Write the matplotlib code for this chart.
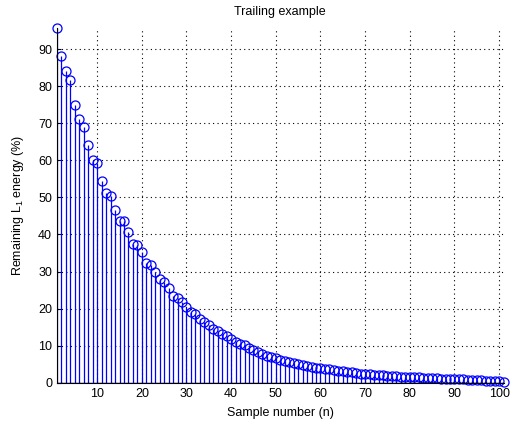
"""
Stem plot of the remaining L1 energy per sample (trailing example).
"""

import matplotlib
matplotlib.use("Agg")
import matplotlib.pyplot as plt

PLOT_FILE = "out.png"

# Remaining L1 energy (%) for samples n = 1..101
REMAINING_ENERGY = [
    95.7, 88.2, 84.1, 81.6, 75.0, 71.1, 69.1, 64.0, 60.2, 59.2,
    54.3, 51.3, 50.4, 46.7, 43.5, 43.5, 40.8, 37.3, 37.1, 35.2,
    32.4, 31.9, 30.0, 27.9, 27.3, 25.6, 23.4, 22.9, 21.7, 20.4,
    19.1, 18.6, 17.2, 16.3, 15.7, 14.6, 13.9, 13.1, 12.5, 11.9,
    11.0, 10.4, 10.1, 9.5, 8.9, 8.2, 7.7, 7.3, 6.9, 6.6,
    6.2, 5.9, 5.7, 5.3, 5.0, 4.8, 4.6, 4.3, 4.1, 3.9,
    3.8, 3.6, 3.4, 3.3, 3.1, 2.9, 2.8, 2.6, 2.5, 2.4,
    2.3, 2.2, 2.1, 2.0, 1.9, 1.9, 1.8, 1.7, 1.7, 1.6,
    1.5, 1.5, 1.4, 1.3, 1.3, 1.2, 1.1, 1.1, 1.0, 1.0,
    0.9, 0.9, 0.8, 0.8, 0.7, 0.7, 0.6, 0.5, 0.5, 0.4,
    0.2,
]
SAMPLES = list(range(1, len(REMAINING_ENERGY) + 1))

X_TICKS = [10, 20, 30, 40, 50, 60, 70, 80, 90, 100]
Y_TICKS = [0, 10, 20, 30, 40, 50, 60, 70, 80, 90]


def plot_remaining_energy():
    plt.rcParams["font.family"] = ["Liberation Sans", "DejaVu Sans"]
    fig = plt.figure(figsize=(5.11, 4.23), dpi=100)
    ax = fig.add_axes([0.1115, 0.095, 0.874, 0.839])

    markers, stems, base = ax.stem(SAMPLES, REMAINING_ENERGY, basefmt="k-")
    plt.setp(stems, color="blue", linewidth=0.9)
    plt.setp(markers, color="blue", marker="o", markersize=6.5,
             markerfacecolor="none", markeredgewidth=0.9, clip_on=False)
    plt.setp(base, linewidth=1.0)

    ax.set_xlim(1, len(SAMPLES))
    ax.set_ylim(0, max(REMAINING_ENERGY))
    ax.set_xticks(X_TICKS)
    ax.set_yticks(Y_TICKS)

    # MATLAB-like sparse dotted grid
    ax.grid(True, linestyle=(0, (1, 3)), color="black", linewidth=0.8)
    ax.set_axisbelow(True)
    for side in ("top", "right"):
        ax.spines[side].set_visible(False)
    ax.tick_params(direction="in", length=3, labelsize=9, colors="black")

    ax.set_title("Trailing example", fontsize=9, pad=9)
    ax.set_xlabel("Sample number (n)", fontsize=9, labelpad=5)
    ax.set_ylabel("Remaining L$_{\\mathregular{1}}$ energy (%)", fontsize=9, labelpad=9)

    fig.savefig(PLOT_FILE, dpi=100)


if __name__ == "__main__":
    plot_remaining_energy()
